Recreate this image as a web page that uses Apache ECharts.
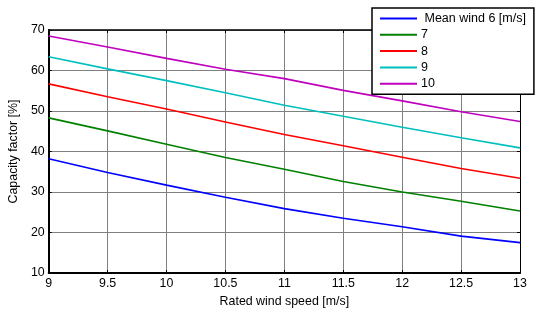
<!DOCTYPE html>
<html><head><meta charset="utf-8">
<script src="https://cdn.jsdelivr.net/npm/echarts@6/dist/echarts.min.js"></script>
<style>html,body{margin:0;padding:0;background:#fff}#c{width:549px;height:317px}</style>
</head><body><div id="c"></div>
<script>
var xs = [9, 9.5, 10, 10.5, 11, 11.5, 12, 12.5, 13];
var names = [' Mean wind 6 [m/s]', '7', '8', '9', '10'];
var wind6  = [38.2, 34.8, 31.7, 28.7, 25.9, 23.5, 21.4, 19.1, 17.5];
var wind7  = [48.3, 45.1, 41.8, 38.5, 35.6, 32.6, 30.0, 27.7, 25.3];
var wind8  = [56.7, 53.5, 50.5, 47.3, 44.2, 41.4, 38.6, 35.8, 33.4];
var wind9  = [63.4, 60.4, 57.5, 54.5, 51.4, 48.7, 46.0, 43.4, 40.9];
var wind10 = [68.5, 65.8, 63.0, 60.3, 58.0, 55.1, 52.5, 49.8, 47.4];
var colors = ['#0000ff', '#008000', '#ff0000', '#00bfbf', '#bf00bf'];
var allData = [wind6, wind7, wind8, wind9, wind10];

var font = 'Liberation Sans, Arial, sans-serif';
function pairs(arr){ return xs.map(function(x,i){ return [x, arr[i]]; }); }

var series = allData.map(function(d, i){
  return { name: names[i], type: 'line', data: pairs(d), showSymbol: false, symbol: 'none',
    lineStyle: { color: colors[i], width: 1.6 }, itemStyle: { color: colors[i] }, z: 3, animation: false };
});

var chart = echarts.init(document.getElementById('c'), null, {renderer: 'canvas'});
chart.setOption({
  animation: false,
  backgroundColor: '#fff',
  grid: { left: 44, right: 29, top: 30, bottom: 44, containLabel: false },
  legend: {
    orient: 'vertical', left: 372, top: 8, padding: [4, 8, 4, 8], itemGap: 3.3,
    itemWidth: 37, itemHeight: 14, backgroundColor: '#fff', borderColor: '#000', borderWidth: 1.5,
    icon: 'path://M0,6h37v2h-37z',
    textStyle: { fontFamily: font, fontSize: 12.5, color: '#000', padding: [0,0,0,-1] },
    data: names.map(function(n, i){ return { name: n, itemStyle: { color: colors[i] } }; }),
    z: 10
  },
  xAxis: [{
    type: 'value', min: 9, max: 13, interval: 0.5,
    name: 'Rated wind speed [m/s]', nameLocation: 'middle', nameGap: 23,
    nameTextStyle: { fontFamily: font, fontSize: 12.4, color: '#000' },
    axisLine: { show: true, onZero: false, lineStyle: { color: '#000', width: 2 } },
    axisTick: { show: true, inside: true, length: 3, lineStyle: { color: '#000' } },
    axisLabel: { fontFamily: font, fontSize: 12.4, color: '#000', margin: 5 },
    splitLine: { show: true, lineStyle: { color: '#808080', width: 1 } }
  }, {
    type: 'value', min: 9, max: 13, interval: 0.5, position: 'top',
    axisLine: { show: true, onZero: false, lineStyle: { color: '#000', width: 1.5 } },
    axisTick: { show: true, inside: true, length: 3, lineStyle: { color: '#000' } },
    axisLabel: { show: false }, splitLine: { show: false }
  }],
  yAxis: [{
    type: 'value', min: 10, max: 70, interval: 10,
    name: 'Capacity factor [%]', nameLocation: 'middle', nameGap: 28,
    nameTextStyle: { fontFamily: font, fontSize: 12.4, color: '#000' },
    axisLine: { show: true, onZero: false, lineStyle: { color: '#000', width: 2 } },
    axisTick: { show: true, inside: true, length: 3, lineStyle: { color: '#000' } },
    axisLabel: { fontFamily: font, fontSize: 12.4, color: '#000', margin: 4 },
    splitLine: { show: true, lineStyle: { color: '#808080', width: 1 } }
  }, {
    type: 'value', min: 10, max: 70, interval: 10, position: 'right',
    axisLine: { show: true, onZero: false, lineStyle: { color: '#000', width: 1 } },
    axisTick: { show: true, inside: true, length: 3, lineStyle: { color: '#000' } },
    axisLabel: { show: false }, splitLine: { show: false }
  }],
  series: series
});
</script></body></html>
